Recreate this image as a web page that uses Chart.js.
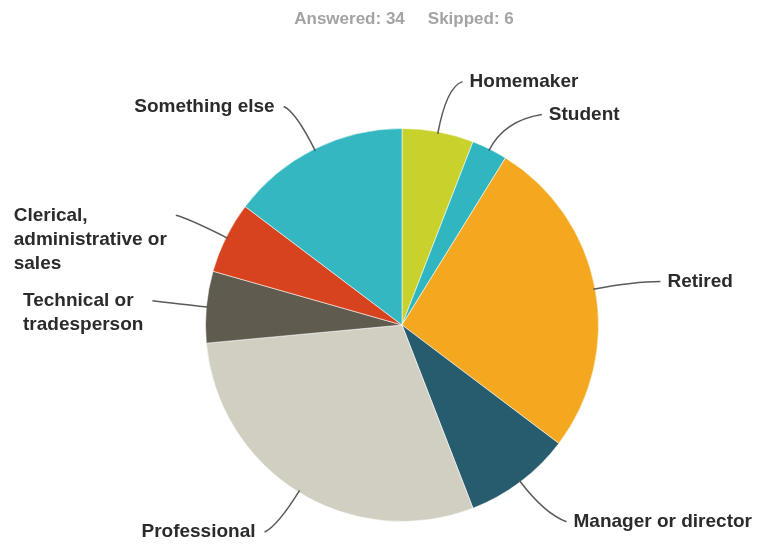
<!DOCTYPE html>
<html>
<head>
<meta charset="utf-8">
<script src="https://cdn.jsdelivr.net/npm/chart.js@4/dist/chart.umd.min.js"></script>
<style>
  html, body { margin: 0; padding: 0; background: #fff; }
  #wrap { width: 757px; height: 545px; position: relative; }
</style>
</head>
<body>
<div id="wrap"><canvas id="occupation"></canvas></div>
<script>
const categories = [
  'Homemaker', 'Student', 'Retired', 'Manager or director', 'Professional',
  'Technical or tradesperson', 'Clerical, administrative or sales', 'Something else'
];
const responses = [2, 1, 9, 3, 10, 2, 2, 5];
const answered = 34;
const skipped = 6;

const sliceColors = [
  '#c9d22c', '#2fb6c1', '#f4a81f', '#275c6e',
  '#d1cfc1', '#5f5b4f', '#d8431f', '#34b7c1'
];

// label text broken into lines
const labelLines = [
  ['Homemaker'], ['Student'], ['Retired'], ['Manager or director'], ['Professional'],
  ['Technical or', 'tradesperson'], ['Clerical,', 'administrative or', 'sales'], ['Something else']
];

// leader shape: radial run past the rim, sideways tail, vertical shift at the text end
const leaders = [
  { len: 46, tail: 16, rise: -5 },
  { len: 32, tail: 38, rise: -6 },
  { len: 40, tail: 26, rise: 0 },
  { len: 40, tail: 22, rise: 8 },
  { len: 40, tail: 13, rise: 6 },
  { len: 12, tail: 42, rise: -5 },
  { len: 45, tail: 10, rise: -2 },
  { len: 42, tail: 12, rise: -5 }
];

const FONT = 'bold 19px "Liberation Sans", Arial, sans-serif';

const calloutPlugin = {
  id: 'callouts',
  afterDraw(chart) {
    const c = chart.ctx;
    const meta = chart.getDatasetMeta(0);
    c.save();

    // response counts above the pie
    c.font = 'bold 17px "Liberation Sans", Arial, sans-serif';
    c.fillStyle = '#a3a3a3';
    c.textBaseline = 'middle';
    c.textAlign = 'left';
    const a = 'Answered: ' + answered;
    const s = 'Skipped: ' + skipped;
    const gap = 23;
    const total = c.measureText(a).width + gap + c.measureText(s).width;
    const x0 = 404 - total / 2;
    c.fillText(a, x0, 19);
    c.fillText(s, x0 + c.measureText(a).width + gap, 19);

    c.font = FONT;
    meta.data.forEach((arc, i) => {
      const L = leaders[i];
      const mid = (arc.startAngle + arc.endAngle) / 2;
      const cos = Math.cos(mid), sin = Math.sin(mid);
      const r = arc.outerRadius;
      const sx = arc.x + cos * (r - 2), sy = arc.y + sin * (r - 2);
      const ex = arc.x + cos * (r + L.len);
      const ey = arc.y + sin * (r + L.len);
      const right = cos >= 0;
      const tx = ex + (right ? L.tail : -L.tail);
      const ty = ey + L.rise;

      c.strokeStyle = '#5a5a5a';
      c.lineWidth = 1.5;
      c.beginPath();
      c.moveTo(sx, sy);
      c.quadraticCurveTo(ex, ey, tx, ty);
      c.stroke();

      const lines = labelLines[i];
      const w = Math.max(...lines.map(l => c.measureText(l).width));
      const left = right ? tx + 7 : tx - 9 - w;
      c.fillStyle = '#2b2b2b';
      lines.forEach((l, k) => c.fillText(l, left, ty + k * 24));
    });
    c.restore();
  }
};

new Chart(document.getElementById('occupation'), {
  type: 'pie',
  data: {
    labels: categories,
    datasets: [{
      data: responses,
      backgroundColor: sliceColors,
      borderColor: 'rgba(255, 255, 255, 0.55)',
      borderWidth: 1
    }]
  },
  options: {
    responsive: true,
    maintainAspectRatio: false,
    animation: false,
    layout: { padding: { left: 205, right: 158, top: 128, bottom: 23 } },
    plugins: {
      legend: { display: false },
      tooltip: { enabled: false }
    }
  },
  plugins: [calloutPlugin]
});
</script>
</body>
</html>
